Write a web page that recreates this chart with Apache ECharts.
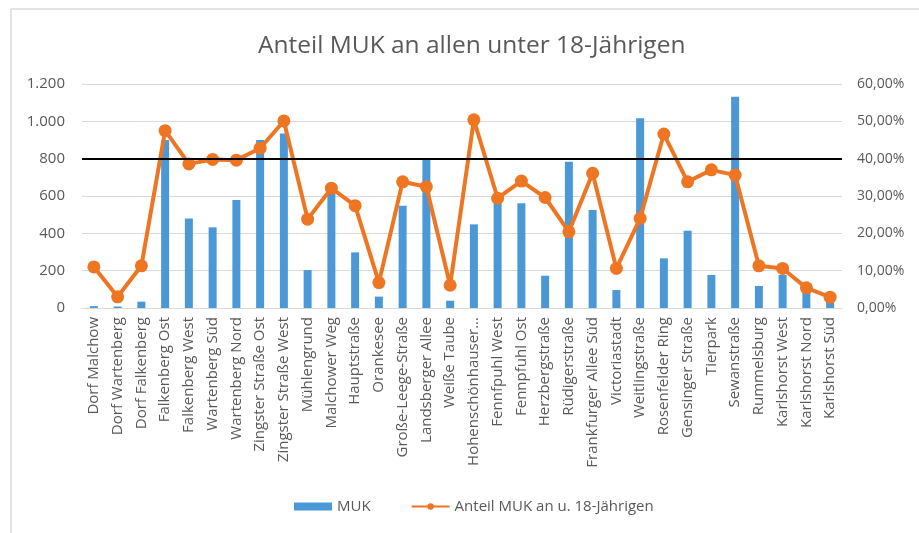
<!DOCTYPE html>
<html>
<head>
<meta charset="utf-8">
<script src="https://cdn.jsdelivr.net/npm/echarts@6/dist/echarts.min.js"></script>
<style>
  html, body { margin: 0; padding: 0; background: #fff; }
  #chart { width: 919px; height: 533px; }
</style>
</head>
<body>
<div id="chart"></div>
<script>
// Ortsteile
const categories = [
  'Dorf Malchow', 'Dorf Wartenberg', 'Dorf Falkenberg', 'Falkenberg Ost', 'Falkenberg West',
  'Wartenberg Süd', 'Wartenberg Nord', 'Zingster Straße Ost', 'Zingster Straße West', 'Mühlengrund',
  'Malchower Weg', 'Hauptstraße', 'Orankesee', 'Große-Leege-Straße', 'Landsberger Allee',
  'Weiße Taube', 'Hohenschönhauser Straße', 'Fennfpuhl West', 'Fennpfuhl Ost', 'Herzbergstraße',
  'Rüdigerstraße', 'Frankfurger Allee Süd', 'Victoriastadt', 'Weitlingstraße', 'Rosenfelder Ring',
  'Gensinger Straße', 'Tierpark', 'Sewanstraße', 'Rummelsburg', 'Karlshorst West',
  'Karlshorst Nord', 'Karlshorst Süd'
];
// MUK (Anzahl)
const mukValues = [
  10, 8, 34, 900, 480,
  432, 578, 900, 935, 203,
  618, 298, 61, 548, 796,
  39, 448, 572, 561, 173,
  784, 525, 96, 1016, 266,
  414, 177, 1132, 118, 177,
  96, 43
];
// Anteil MUK an u. 18-Jährigen in %
const shareValues = [
  11.0, 3.0, 11.3, 47.5, 38.6,
  39.8, 39.6, 42.8, 50.1, 23.8,
  32.1, 27.4, 6.8, 33.8, 32.5,
  6.1, 50.4, 29.4, 34.0, 29.6,
  20.4, 36.1, 10.6, 24.0, 46.6,
  33.8, 37.0, 35.6, 11.3, 10.6,
  5.4, 2.9
];
const threshold = 800;

const font = 'Open Sans';
const grey = '#595959';

function fmtCount(v) {
  let s = String(v);
  if (v >= 1000) s = s.slice(0, s.length - 3) + '.' + s.slice(-3);
  return s;
}
function fmtPct(v) {
  return v.toFixed(2).replace('.', ',') + '%';
}

let myChart = echarts.init(document.getElementById('chart'));
let option = {
  backgroundColor: '#fff',
  textStyle: { fontFamily: font },
  title: {
    text: 'Anteil MUK an allen unter 18-Jährigen',
    left: 253,
    top: 29,
    textStyle: { fontFamily: font, fontSize: 24.5, fontWeight: 'normal', color: grey }
  },
  legend: {
    bottom: 14,
    left: 289,
    itemGap: 40,
    textStyle: { fontFamily: font, fontSize: 15, color: grey },
    data: [
      { name: 'MUK', icon: 'rect', itemStyle: { color: '#4a98d6' } },
      { name: 'Anteil MUK an u. 18-Jährigen' }
    ],
    itemWidth: 38,
    itemHeight: 8
  },
  grid: { left: 82, right: 77, top: 84, bottom: 225 },
  xAxis: {
    type: 'category',
    data: categories,
    axisTick: { show: false },
    axisLine: { lineStyle: { color: '#d9d9d9', width: 1 } },
    axisLabel: {
      interval: 0,
      rotate: 90,
      fontFamily: font,
      fontSize: 15,
      color: grey,
      margin: 9,
      formatter: function (v) {
        return v.length > 21 ? v.slice(0, 16) + '...' : v;
      }
    }
  },
  yAxis: [
    {
      type: 'value',
      min: 0,
      max: 1200,
      interval: 200,
      axisLine: { show: false },
      axisTick: { show: false },
      splitLine: { lineStyle: { color: '#d9d9d9', width: 1 } },
      axisLabel: { fontFamily: font, fontSize: 15, color: grey, margin: 17, formatter: fmtCount }
    },
    {
      type: 'value',
      min: 0,
      max: 60,
      interval: 10,
      axisLine: { show: false },
      axisTick: { show: false },
      splitLine: { show: false },
      axisLabel: { fontFamily: font, fontSize: 14, color: grey, margin: 15, formatter: fmtPct }
    }
  ],
  series: [
    {
      name: 'MUK',
      type: 'bar',
      data: mukValues,
      barWidth: 8,
      itemStyle: { color: '#4a98d6' },
      markLine: {
        silent: true,
        symbol: 'none',
        label: { show: false },
        lineStyle: { color: '#000', width: 2, type: 'solid' },
        data: [{ yAxis: threshold }]
      }
    },
    {
      name: 'Anteil MUK an u. 18-Jährigen',
      type: 'line',
      yAxisIndex: 1,
      data: shareValues,
      symbol: 'circle',
      symbolSize: 13,
      lineStyle: { color: '#ee7623', width: 4 },
      itemStyle: { color: '#ee7623' }
    }
  ],
  graphic: [
    { type: 'line', shape: { x1: 11, y1: 9, x2: 919, y2: 9 }, style: { stroke: '#e3e3e3', lineWidth: 2 } },
    { type: 'line', shape: { x1: 11, y1: 9, x2: 11, y2: 533 }, style: { stroke: '#e3e3e3', lineWidth: 2 } }
  ]
};
myChart.setOption(option);
</script>
</body>
</html>
